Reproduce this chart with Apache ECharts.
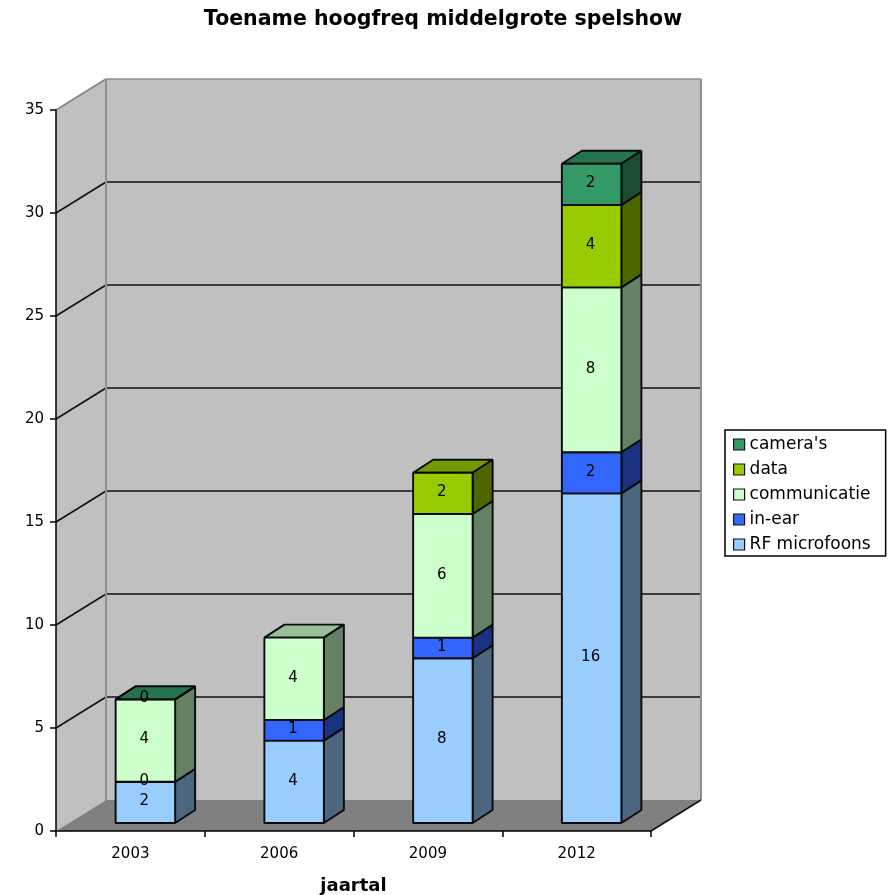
<!DOCTYPE html>
<html>
<head>
<meta charset="utf-8">
<style>html,body{margin:0;padding:0;background:#fff}#c{width:893px;height:895px}</style>
<script src="https://cdn.jsdelivr.net/npm/echarts@6/dist/echarts.min.js"></script>
</head>
<body>
<div id="c"></div>
<script>
// Values per year, bottom of the stack first
const years = ['2003', '2006', '2009', '2012'];
const rfMicrofoons = [2, 4, 8, 16];
const inEar = [0, 1, 1, 2];
const communicatie = [4, 4, 6, 8];
const dataLink = [null, null, 2, 4];
const cameras = [0, null, null, 2];
const yTicks = [5, 10, 15, 20, 25, 30];

const layers = [
  { name: 'RF microfoons', values: rfMicrofoons, front: '#99ccff', top: '#7399bf', side: '#4d6680' },
  { name: 'in-ear', values: inEar, front: '#3366ff', top: '#264dbf', side: '#1a3380' },
  { name: 'communicatie', values: communicatie, front: '#ccffcc', top: '#99bf99', side: '#668066' },
  { name: 'data', values: dataLink, front: '#99cc00', top: '#739900', side: '#4d6600' },
  { name: "camera's", values: cameras, front: '#339966', top: '#267350', side: '#1a4d33' }
];

// Oblique projection: wall depth, box depth and the inset of the boxes from the front plane
const WALL_DX = 50, WALL_DY = -31;
const BOX_DX = 20, BOX_DY = -13;
const INSET_DX = 15, INSET_DY = -8;
const BAR_SHARE = 0.4;
const FONT = '"DejaVu Sans", Verdana, sans-serif';

function poly(points, fill, stroke, lineWidth, z2) {
  return {
    type: 'polygon', z2: z2 || 0,
    shape: { points },
    style: { fill, stroke: stroke || null, lineWidth: lineWidth || 0, lineJoin: 'bevel' }
  };
}
function seg(x1, y1, x2, y2, stroke, lineWidth, z2) {
  return {
    type: 'line', z2: z2 || 1,
    shape: { x1, y1, x2, y2 },
    style: { stroke, lineWidth }
  };
}

// Side wall, back wall, floor and the gridlines that run across them
function renderRoom(params, api) {
  const cs = params.coordSys;
  const x0 = cs.x, x1 = cs.x + cs.width;
  const yb = api.coord([0, 0])[1], yt = api.coord([0, 35])[1];
  const bx0 = x0 + WALL_DX, bx1 = x1 + WALL_DX;
  const byb = yb + WALL_DY, byt = yt + WALL_DY;
  const children = [
    poly([[x0, yb], [bx0, byb], [bx0, byt], [x0, yt]], '#c0c0c0'),
    poly([[bx0, byb], [bx1, byb], [bx1, byt], [bx0, byt]], '#c0c0c0'),
    poly([[x0, yb], [bx0, byb], [bx1, byb], [x1, yb]], '#808080')
  ];
  yTicks.forEach(function (t) {
    const y = api.coord([0, t])[1];
    children.push(seg(x0, y, bx0, y + WALL_DY, '#111111', 1.6));
    children.push(seg(bx0, y + WALL_DY, bx1, y + WALL_DY, '#111111', 1.6));
  });
  children.push(seg(x0, yt, bx0, byt, '#808080', 1.5));
  children.push(seg(bx0, byt, bx1, byt, '#909090', 1.5));
  children.push(seg(bx0, byt, bx0, byb, '#909090', 2));
  children.push(seg(bx1, byt, bx1, byb, '#909090', 2));
  children.push(seg(x1, yb, bx1, byb, '#111111', 1.6));
  return { type: 'group', children };
}

// One stacked segment: front, side and top faces plus the value label
function boxRenderer(layer) {
  return function (params, api) {
    const cat = api.value(0), from = api.value(1), to = api.value(2), val = api.value(3);
    const base = api.coord([cat, from]);
    const head = api.coord([cat, to]);
    const w = api.size([1, 0])[0] * BAR_SHARE;
    const l = base[0] + INSET_DX - w / 2, r = l + w;
    const b = base[1] + INSET_DY, t = head[1] + INSET_DY;
    const stroke = '#0a0a0a', lw = 1.9;
    return {
      type: 'group',
      children: [
        poly([[l, t], [r, t], [r + BOX_DX, t + BOX_DY], [l + BOX_DX, t + BOX_DY]], layer.top, stroke, lw),
        poly([[r, b], [r + BOX_DX, b + BOX_DY], [r + BOX_DX, t + BOX_DY], [r, t]], layer.side, stroke, lw),
        poly([[l, b], [r, b], [r, t], [l, t]], layer.front, stroke, lw),
        {
          type: 'text', z2: 100,
          style: {
            x: (l + r) / 2 - 1, y: (b + t) / 2 - 1,
            text: String(val),
            fill: '#000', font: '15px ' + FONT,
            align: 'center', verticalAlign: 'middle'
          }
        }
      ]
    };
  };
}

const running = years.map(function () { return 0; });
const boxSeries = layers.map(function (layer) {
  const rows = [];
  layer.values.forEach(function (v, i) {
    if (v === null) return;
    rows.push([i, running[i], running[i] + v, v]);
    running[i] += v;
  });
  return {
    type: 'custom',
    name: layer.name,
    coordinateSystem: 'cartesian2d',
    itemStyle: { color: layer.front },
    encode: { x: 0, y: [1, 2] },
    renderItem: boxRenderer(layer),
    data: rows,
    silent: true,
    animation: false
  };
});

const chart = echarts.init(document.getElementById('c'), null, { renderer: 'canvas' });
chart.setOption({
  animation: false,
  backgroundColor: '#ffffff',
  textStyle: { fontFamily: FONT },
  title: {
    text: 'Toename hoogfreq middelgrote spelshow',
    left: 438, top: 4, textAlign: 'center',
    textStyle: { fontFamily: FONT, fontSize: 20.5, fontWeight: 'bold', color: '#000' }
  },
  grid: { left: 56, right: 242, top: 110, bottom: 64, containLabel: false, outerBoundsMode: 'none' },
  xAxis: {
    type: 'category', data: years,
    name: 'jaartal', nameLocation: 'middle', nameGap: 46,
    nameTextStyle: { fontFamily: FONT, fontSize: 18, fontWeight: 'bold', color: '#000' },
    axisLine: { lineStyle: { color: '#000', width: 1.5 } },
    axisTick: { show: true, length: 6, lineStyle: { color: '#000', width: 1.5 } },
    axisLabel: { color: '#000', fontSize: 15, margin: 16 },
    splitLine: { show: false },
    z: 5
  },
  yAxis: {
    type: 'value', min: 0, max: 35, interval: 5,
    axisLine: { show: true, lineStyle: { color: '#000', width: 1.5 } },
    axisTick: { show: true, length: 6, lineStyle: { color: '#000', width: 1.5 } },
    axisLabel: { color: '#000', fontSize: 15, margin: 12 },
    splitLine: { show: false },
    z: 5
  },
  legend: {
    orient: 'vertical', left: 725, top: 430,
    data: layers.slice().reverse().map(function (l) { return l.name; }),
    backgroundColor: '#fff', borderColor: '#000', borderWidth: 1.5, borderRadius: 0,
    padding: [6, 15, 3, 8],
    itemWidth: 11, itemHeight: 11, itemGap: 8,
    icon: 'rect',
    itemStyle: { borderColor: '#111', borderWidth: 1.2 },
    textStyle: { color: '#000', fontSize: 17, fontFamily: FONT },
    selectedMode: false
  },
  series: [{
    type: 'custom', name: 'room', coordinateSystem: 'cartesian2d',
    renderItem: renderRoom, data: [[0, 0]], encode: { x: 0, y: 1 },
    silent: true, animation: false, z: 1
  }].concat(boxSeries)
});
</script>
</body>
</html>
